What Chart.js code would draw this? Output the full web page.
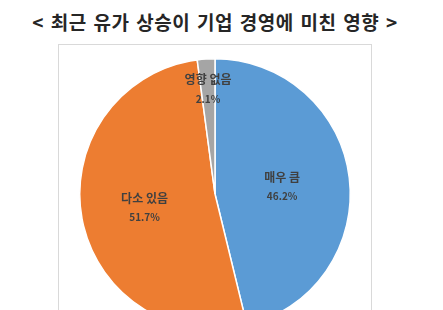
<!DOCTYPE html>
<html>
<head>
<meta charset="utf-8">
<script src="https://cdn.jsdelivr.net/npm/chart.js@4"></script>
<style>
  html, body { margin: 0; padding: 0; width: 443px; height: 310px; overflow: hidden; background: #fff; }
  #title {
    position: absolute; left: 0; top: 8px; width: 430px; text-align: center;
    font-family: "Noto Sans CJK KR", sans-serif; font-weight: bold; font-size: 19px;
    color: #262626; letter-spacing: 0.5px; word-spacing: 2px;
  }
  #box {
    position: absolute; left: 58px; top: 44px; width: 314px; height: 300px;
    border: 1px solid #d9d9d9; box-sizing: border-box;
  }
</style>
</head>
<body>
<div id="title">&lt; 최근 유가 상승이 기업 경영에 미친 영향 &gt;</div>
<div id="box"><canvas id="pieChart"></canvas></div>
<script>
// 데이터
const categories = ['매우 큼', '다소 있음', '영향 없음'];
const values = [46.2, 51.7, 2.1];
const colors = ['#5B9BD5', '#ED7D31', '#A5A5A5'];

// 라벨 위치 (반지름 비율)
const labelRadius = [0.5, 0.53, 0.78];

const sliceLabels = {
  id: 'sliceLabels',
  afterDatasetsDraw(chart) {
    const ctx = chart.ctx;
    const meta = chart.getDatasetMeta(0);
    ctx.save();
    ctx.fillStyle = '#404040';
    ctx.textAlign = 'center';
    ctx.textBaseline = 'middle';
    meta.data.forEach(function (arc, i) {
      const mid = (arc.startAngle + arc.endAngle) / 2;
      const r = arc.outerRadius * labelRadius[i];
      const x = arc.x + Math.cos(mid) * r;
      const y = arc.y + Math.sin(mid) * r;
      ctx.font = 'bold 12px "Noto Sans CJK KR", sans-serif';
      ctx.fillText(categories[i], x, y - 9);
      ctx.font = 'bold 10px "Noto Sans CJK KR", sans-serif';
      ctx.fillText(values[i].toFixed(1) + '%', x, y + 10);
    });
    ctx.restore();
  }
};

const ctx = document.getElementById('pieChart').getContext('2d');
new Chart(ctx, {
  type: 'pie',
  data: {
    labels: categories,
    datasets: [{
      data: values,
      backgroundColor: colors,
      borderColor: '#ffffff',
      borderWidth: 1.5
    }]
  },
  options: {
    responsive: true,
    maintainAspectRatio: false,
    animation: false,
    layout: { padding: 13 },
    plugins: {
      legend: { display: false },
      tooltip: { enabled: false }
    }
  },
  plugins: [sliceLabels]
});
</script>
</body>
</html>
